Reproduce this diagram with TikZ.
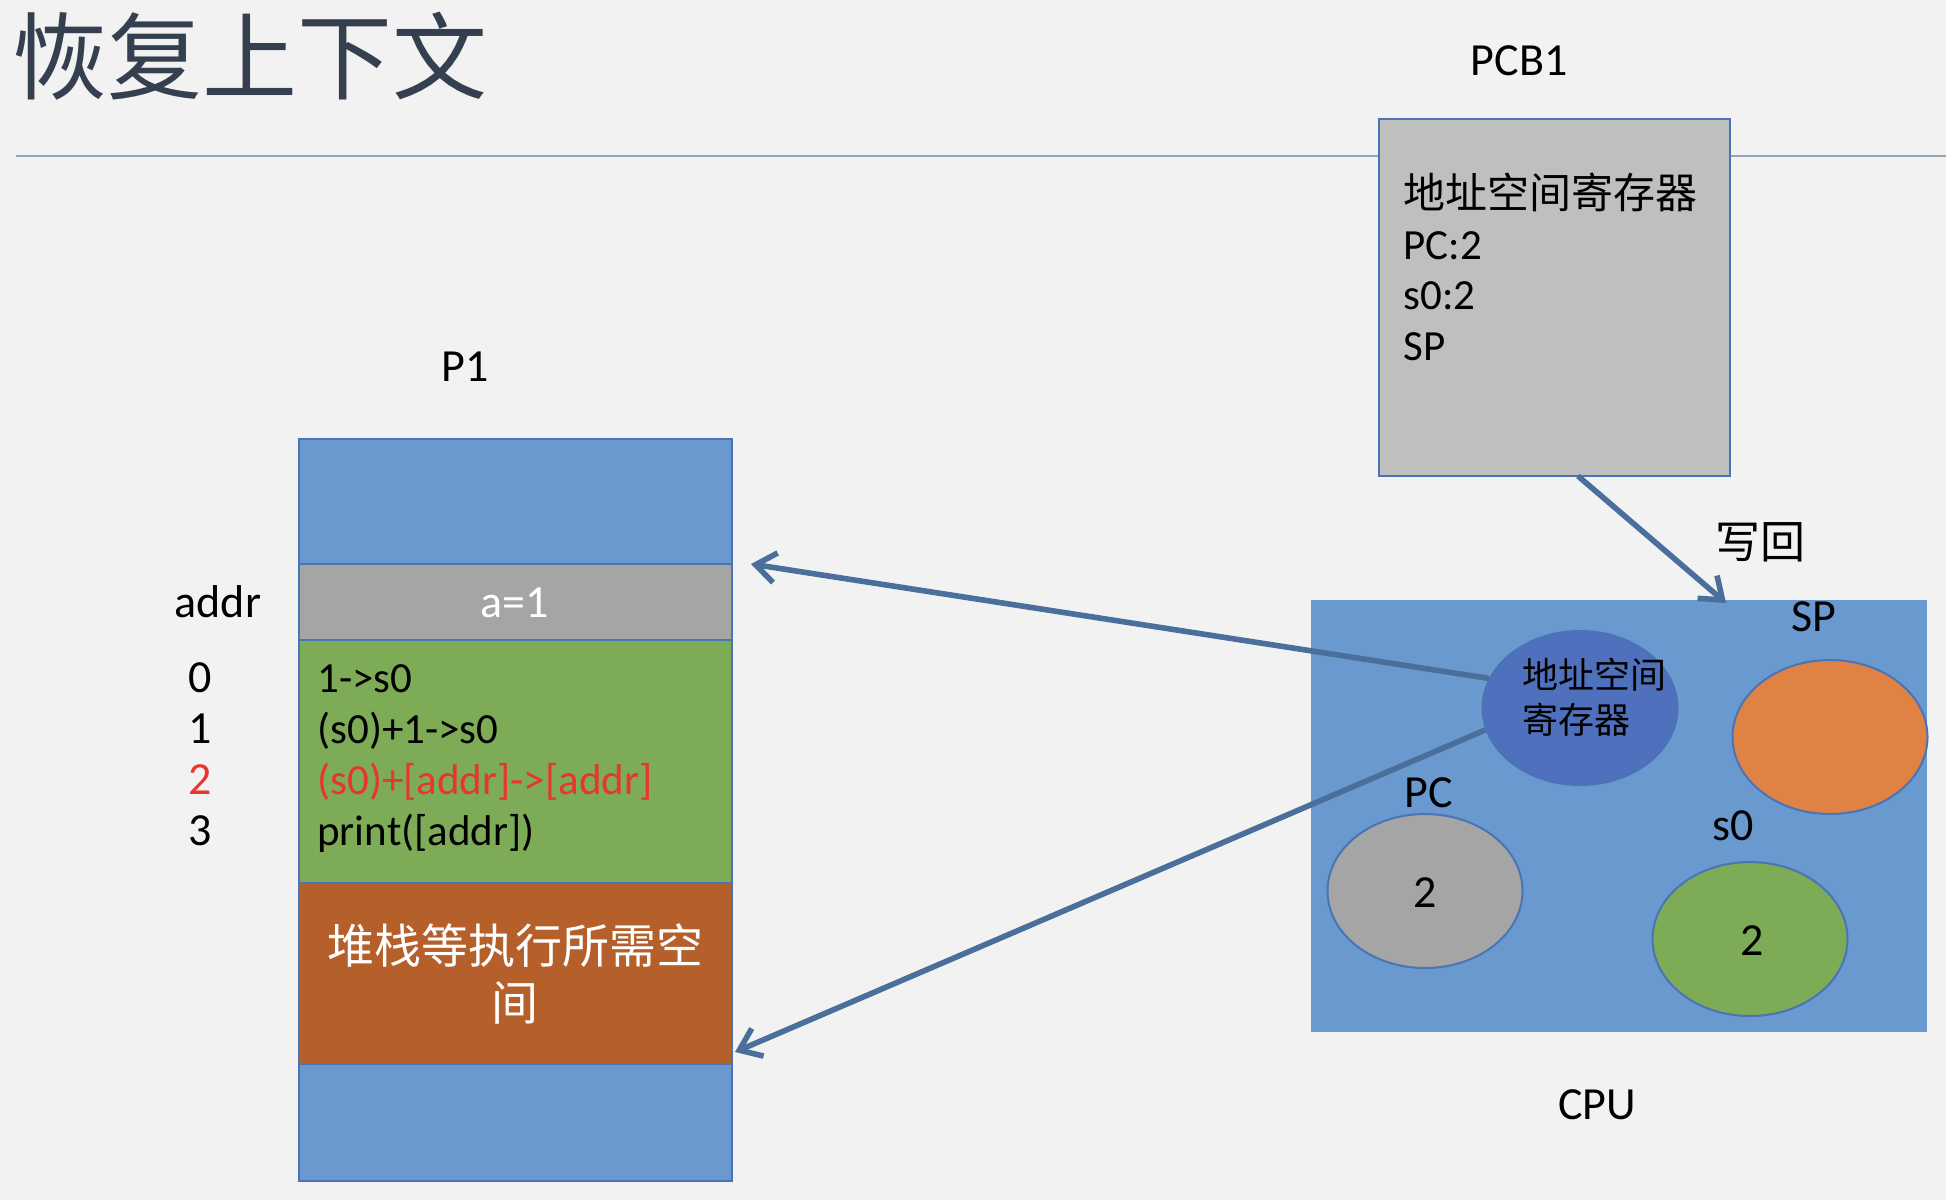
\documentclass[tikz,border=0pt]{standalone}
\usepackage{fontspec}
\setmainfont{Carlito}
\newfontfamily\cjk{Noto Sans CJK SC}
\usetikzlibrary{arrows.meta,shapes.geometric}
\definecolor{bg}{HTML}{F2F2F2}
\definecolor{blu}{HTML}{6A99CF}
\definecolor{bord}{HTML}{4A74B4}
\definecolor{gry}{HTML}{A5A5A5}
\definecolor{grn}{HTML}{7EAB55}
\definecolor{brn}{HTML}{B5602A}
\definecolor{pcbc}{HTML}{BFBFBF}
\definecolor{areg}{HTML}{4F70BC}
\definecolor{orng}{HTML}{DF8244}
\definecolor{arr}{HTML}{4A6F9B}
\definecolor{redt}{HTML}{E8352E}
\definecolor{ttl}{HTML}{343F4F}
\definecolor{rule}{HTML}{95A3B6}
\begin{document}
\begin{tikzpicture}[x=0.5pt,y=-0.5pt,
  seg/.style={draw=bord,line width=1.2pt,inner sep=0,minimum width=216.5pt},
  ell/.style={ellipse,draw=bord,line width=1pt,inner sep=0,minimum width=97.5pt,minimum height=77pt},
  lbl/.style={inner sep=0,anchor=base,font=\fontsize{23}{27}\selectfont},
  code/.style={inner sep=0,anchor=base west,font=\fontsize{21.5}{26}\selectfont},
  conn/.style={draw=arr,line width=2.8pt,-{Straight Barb[length=10pt,width=15pt]}}]
\useasboundingbox[fill=bg] (0,0) rectangle (1946,1200);
% title and rule
\node[inner sep=0,anchor=base west,text=ttl,font=\cjk\fontsize{47.5}{52}\selectfont] (title) at (12,92) {恢复上下文};
\coordinate (r1) at (16,156);
\coordinate (r2) at (1946,156);
\draw[rule,line width=1.2pt] (r1) -- (r2);
% P1 column
\node[lbl] (p1) at (465,381) {P1};
\node[seg,fill=blu,minimum height=62.5pt] (top) at (515.5,501.5) {};
\node[seg,fill=gry,minimum height=38pt] (aseg) at (515.5,602) {};
\node[seg,fill=grn,minimum height=121.5pt] (code) at (515.5,761.5) {};
\node[seg,fill=brn,minimum height=90.5pt] (stack) at (515.5,973.5) {};
\node[seg,fill=blu,minimum height=58.5pt] (bot) at (515.5,1122.5) {};
\node[lbl,text=white] (a1) at (515,617) {a=1};
\node[lbl] (addr) at (218,617) {addr};
\node[lbl] (n0) at (200,692) {0};
\node[lbl] (n1) at (200,743) {1};
\node[lbl,text=redt] (n2) at (200,794) {2};
\node[lbl] (n3) at (200,845) {3};
\node[code] (c0) at (317,692) {1->s0};
\node[code] (c1) at (317,743) {(s0)+1->s0};
\node[code,text=redt] (c2) at (317,794) {(s0)+[addr]->[addr]};
\node[code] (c3) at (317,845) {print([addr])};
\node[inner sep=0,anchor=base,text=white,font=\cjk\fontsize{23.5}{28}\selectfont] (st1) at (515,963) {堆栈等执行所需空};
\node[inner sep=0,anchor=base,text=white,font=\cjk\fontsize{23.5}{28}\selectfont] (st2) at (515,1020) {间};
% PCB
\node[lbl] (pcb1) at (1519,75) {PCB1};
\node[draw=bord,fill=pcbc,line width=1.2pt,inner sep=0,minimum width=175.5pt,minimum height=178.5pt] (pcb) at (1554.5,297.5) {};
\node[inner sep=0,anchor=base west,font=\cjk\fontsize{21}{25}\selectfont] (pt0) at (1403,208) {地址空间寄存器};
\node[code] (pt1) at (1403,259) {PC:2};
\node[code] (pt2) at (1403,309) {s0:2};
\node[code] (pt3) at (1403,360) {SP};
% CPU
\node[fill=blu,inner sep=0,minimum width=308pt,minimum height=216pt] (cpu) at (1619,816) {};
\node[lbl] (cpul) at (1597,1119) {CPU};
\node[ell,fill=areg] (ar) at (1580,708) {};
\node[inner sep=0,anchor=base west,font=\cjk\fontsize{18}{22}\selectfont] (ar1) at (1522,688) {地址空间};
\node[inner sep=0,anchor=base west,font=\cjk\fontsize{18}{22}\selectfont] (ar2) at (1522,733) {寄存器};
\node[ell,fill=orng] (sp) at (1830,737) {};
\node[lbl] (spl) at (1814,631) {SP};
\node[ell,fill=gry] (pc) at (1425,891) {};
\node[lbl] (pcl) at (1429,807) {PC};
\node[lbl] (pcv) at (1425,907) {2};
\node[ell,fill=grn] (s0) at (1750,939) {};
\node[lbl] (s0l) at (1733,840) {s0};
\node[lbl] (s0v) at (1752,955) {2};
% arrows
\coordinate (t1) at (751,564);
\coordinate (t2) at (735,1052);
\coordinate (pb) at (1578,476);
\coordinate (wb) at (1726,603);
\draw[conn] (ar.162) -- (t1);
\draw[conn] (ar.193) -- (t2);
\draw[conn] (pb) -- (wb);
\node[inner sep=0,anchor=base,font=\cjk\fontsize{22.5}{26}\selectfont] (wh) at (1760,558) {写回};
\end{tikzpicture}
\end{document}
